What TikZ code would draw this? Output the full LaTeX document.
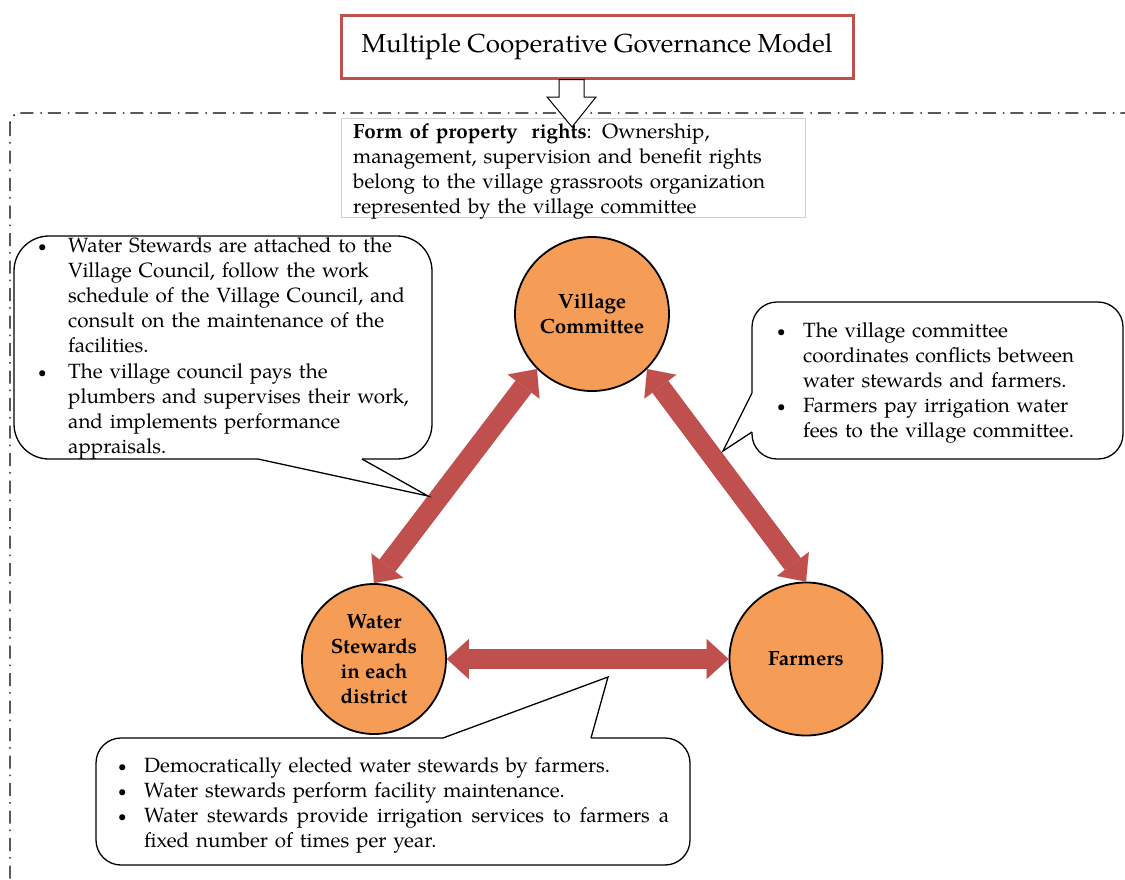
\documentclass[tikz,border=0pt]{standalone}
\usepackage{fontspec}
\setmainfont{TeX Gyre Pagella}
\usetikzlibrary{arrows.meta,shapes.geometric}
\definecolor{redbr}{HTML}{C0504D}
\definecolor{orfill}{HTML}{F59D56}
\newcommand\bul[1]{\hangindent=#1\hangafter=1\noindent\makebox[#1][l]{\raisebox{1pt}{\fontsize{15}{15}\selectfont\textbullet}}}
\begin{document}
\begin{tikzpicture}[x=1pt,y=-1pt,
  txt/.style={inner sep=0pt, align=left, font=\fontsize{20.6}{25.2}\selectfont},
  orb/.style={draw=black, line width=1.8pt, fill=orfill, inner sep=0pt, align=center, font=\bfseries\fontsize{20.6}{25}\selectfont},
  bigarr/.style={draw=redbr, line width=20pt, {Triangle[length=22pt 0 0,width=40pt 0 0,line width=0.01pt]}-{Triangle[length=22pt 0 0,width=40pt 0 0,line width=0.01pt]}},
  bubble/.style={draw=black, line width=1.3pt, fill=white},
  ptr/.style={draw=black, line width=1.3pt},
]
\useasboundingbox (0,0) rectangle (1125,879);
\begin{scope}
\clip (0,0) rectangle (1125,879);
\draw[line width=1.4pt, dash pattern=on 13pt off 6pt on 1.5pt off 7pt, rounded corners=10pt] (10,113) rectangle (1140,890);
\end{scope}
% property rights box
\node[draw=black!18, line width=0.8pt, minimum width=464pt, minimum height=99pt, inner sep=0pt] (propbox) at (573,167.5) {};
\node[txt, text width=450pt, anchor=base west, font=\fontsize{20.6}{25}\selectfont] (prop) at (353,138) {\textbf{Form of property\ \ rights}: Ownership,\newline management, supervision and benefit rights\newline belong to the village grassroots organization\newline represented by the village committee};
% title
\node[draw=redbr, line width=3pt, minimum width=512pt, minimum height=63pt, inner sep=0pt, fill=white, font=\fontsize{26}{30}\selectfont] (title) at (597,46.5) {Multiple Cooperative Governance Model};
% hollow arrow
\draw[fill=white, line width=1pt] (559,79.5) -- (584,79.5) -- (584,97) -- (596,97) -- (572,127) -- (547,97) -- (559,97) -- cycle;
% actors
\node[orb, circle, minimum size=154pt] (vc) at (592,314) {Village\\Committee};
\node[orb, ellipse, minimum width=144pt, minimum height=150pt] (ws) at (374,659) {Water\\Stewards\\in each\\district};
\node[orb, circle, minimum size=153pt] (fa) at (806,659) {Farmers};
% relations
\draw[bigarr] (ws.north) -- (vc.south west);
\draw[bigarr] (vc.south east) -- (fa.north);
\draw[bigarr] (ws.east) -- (fa.west);
% left callout
\draw[bubble, rounded corners=35pt] (14,236) rectangle (432,459);
\fill[white] (258,456) -- (258,459) -- (428,496) -- (362,459) -- (362,456) -- cycle;
\draw[ptr] (258,459) -- (428,496) -- (362,459);
\node[txt, text width=400pt, anchor=base west] (lt) at (38,252) {\bul{30pt}Water Stewards are attached to the\newline Village Council, follow the work\newline schedule of the Village Council, and\newline consult on the maintenance of the\newline facilities.\par\bul{30pt}The village council pays the\newline plumbers and supervises their work,\newline and implements performance\newline appraisals.\par};
% right callout
\draw[bubble, rounded corners=25pt] (752,302) rectangle (1123,459);
\fill[white] (755,393) -- (752,393) -- (723,451) -- (752,432) -- (755,432) -- cycle;
\draw[ptr] (752,393) -- (723,451) -- (752,432);
\node[txt, text width=330pt, anchor=base west] (rt) at (777,337) {\bul{26pt}The village committee\newline coordinates conflicts between\newline water stewards and farmers.\par\bul{26pt}Farmers pay irrigation water\newline fees to the village committee.\par};
% bottom callout
\draw[bubble, rounded corners=25pt] (96,738) rectangle (690,865);
\fill[white] (443,741) -- (443,738) -- (608,677) -- (591,738) -- (591,741) -- cycle;
\draw[ptr] (443,738) -- (608,677) -- (591,738);
\node[txt, text width=560pt, anchor=base west, font=\fontsize{20.6}{25}\selectfont] (bt) at (118,772) {\bul{26pt}Democratically elected water stewards by farmers.\par\bul{26pt}Water stewards perform facility maintenance.\par\bul{26pt}\makebox[525pt][l]{Water\hfill stewards\hfill provide\hfill irrigation\hfill services\hfill to\hfill farmers\hfill a}\newline fixed number of times per year.\par};
\end{tikzpicture}
\end{document}
